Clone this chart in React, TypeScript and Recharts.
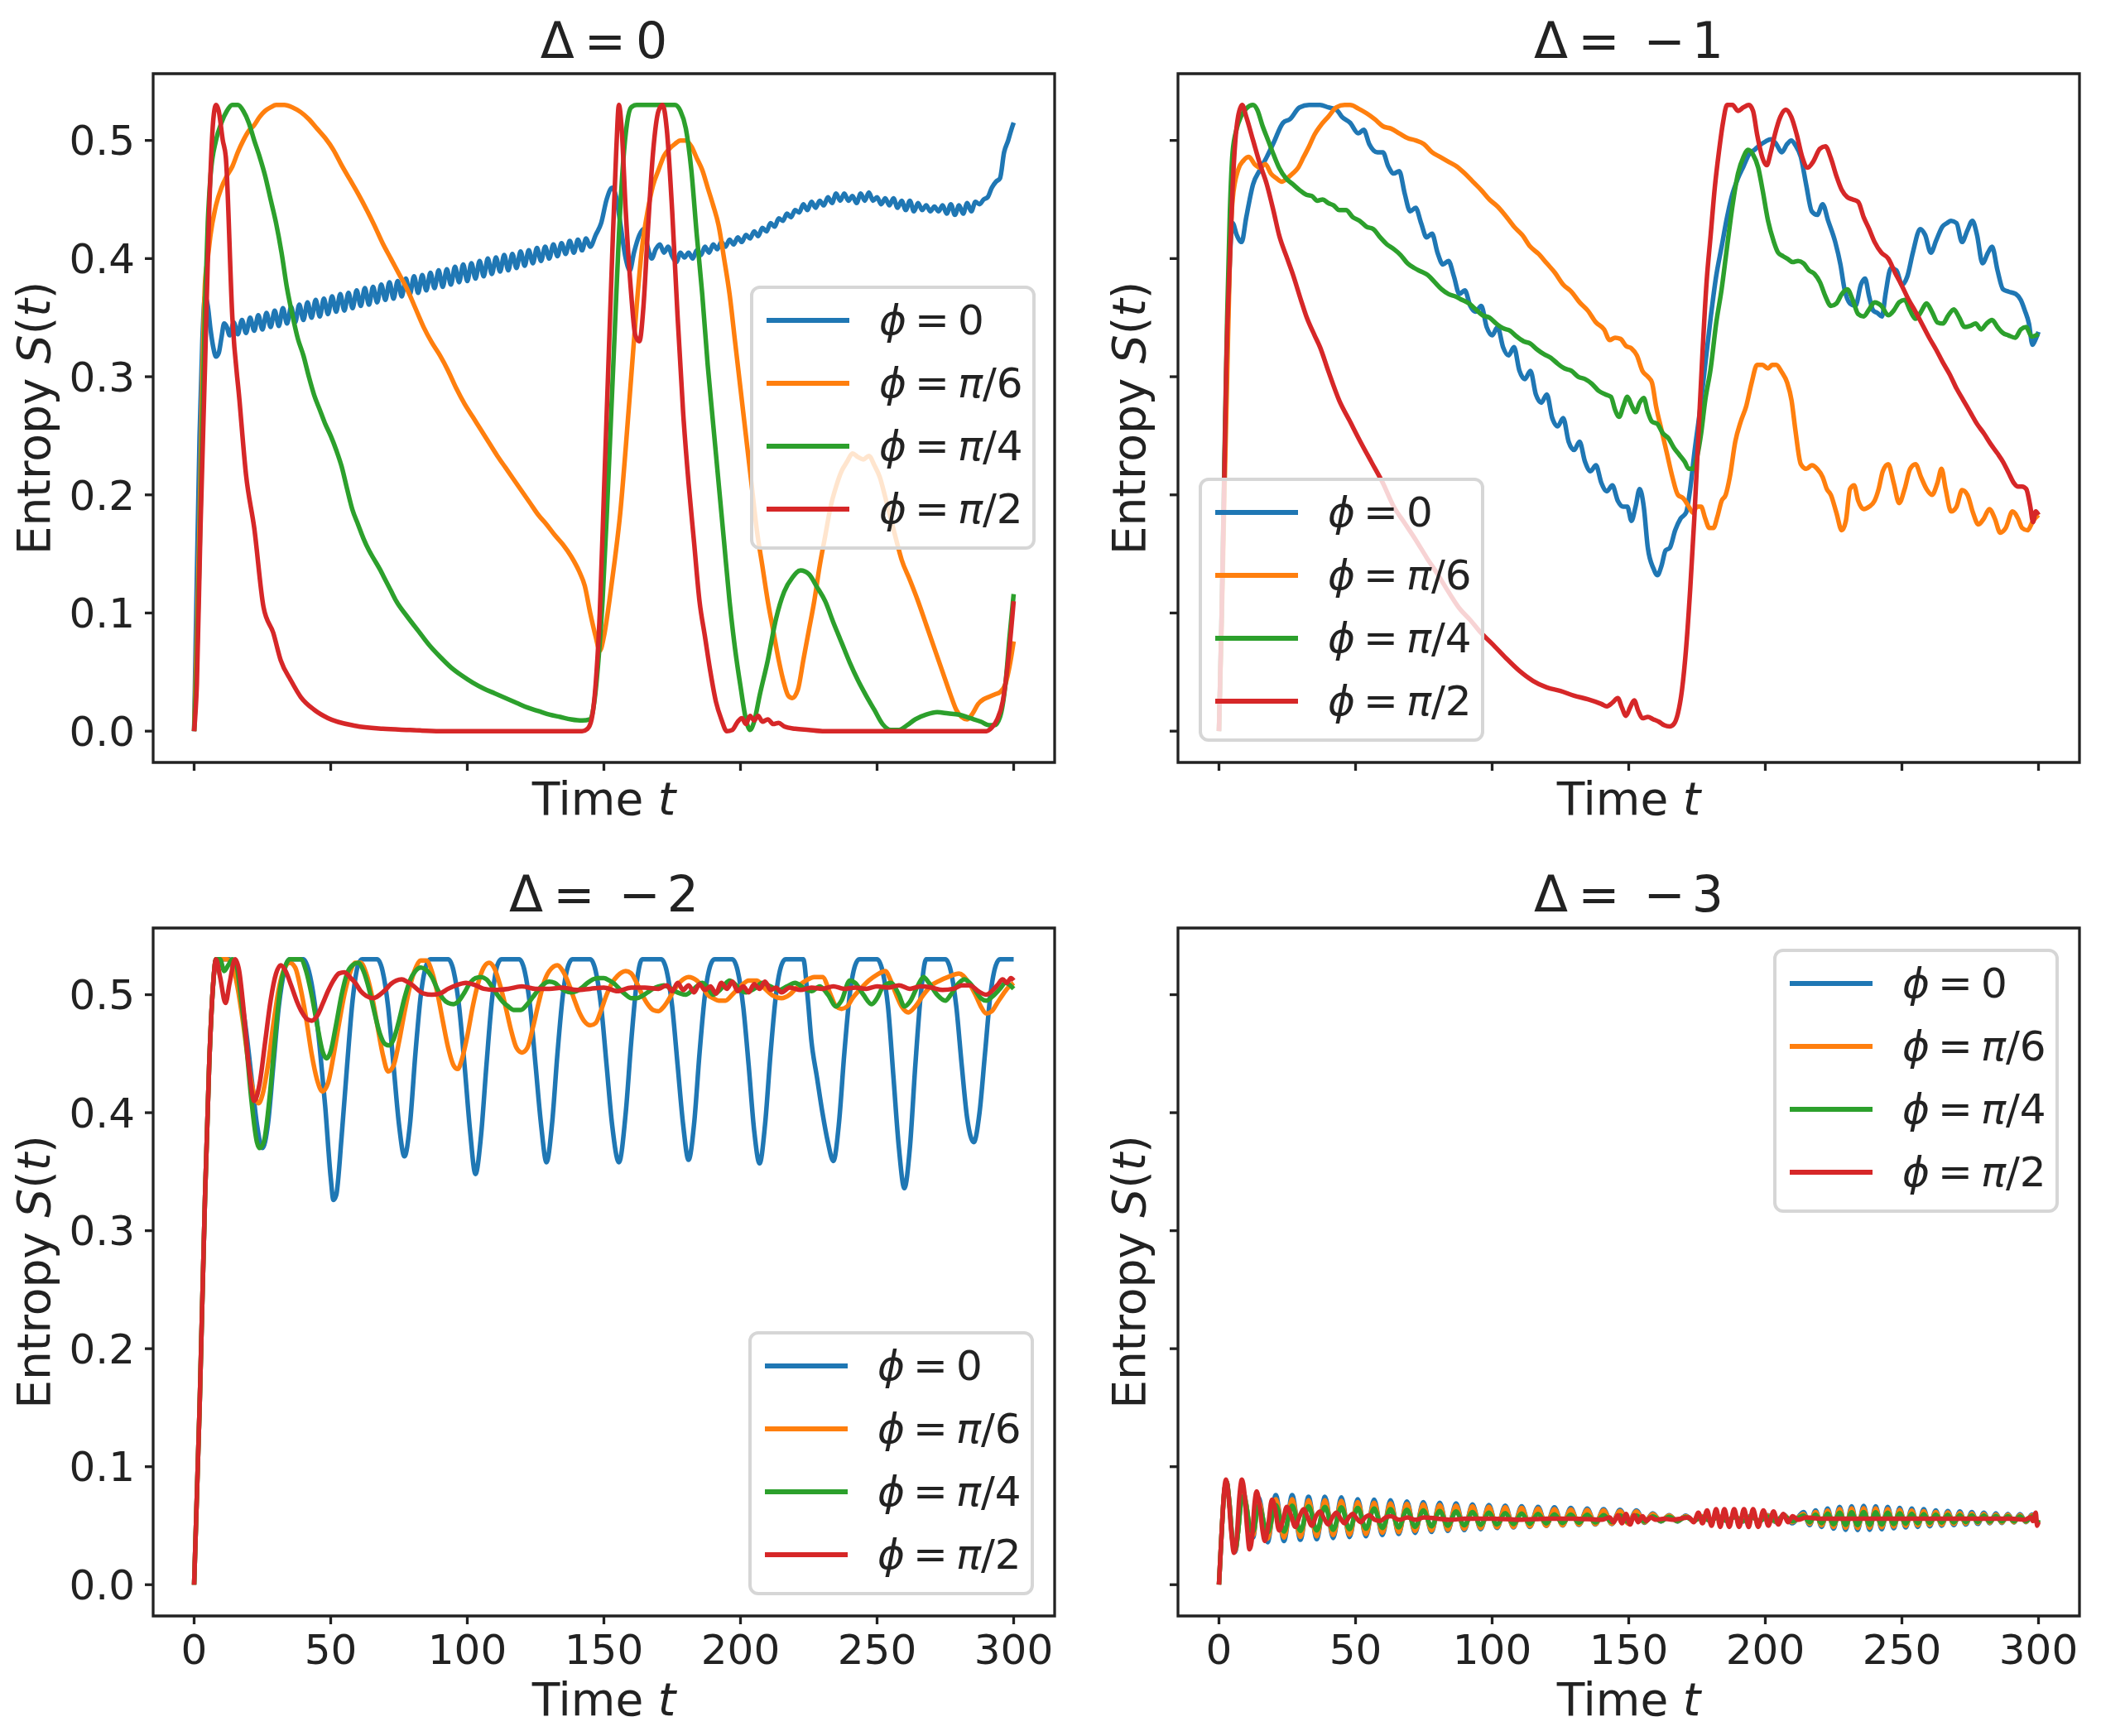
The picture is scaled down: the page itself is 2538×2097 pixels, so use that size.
import React from 'react';
import { LineChart, Line, XAxis, YAxis, Legend, ReferenceArea } from 'recharts';

type Pt = [number, number];

const FONT = '"DejaVu Sans", sans-serif';
const INK = '#222';

const timeTicks = [0, 50, 100, 150, 200, 250, 300];
const entropyTicks = [0, 0.1, 0.2, 0.3, 0.4, 0.5];
const timeDomain = [-15, 315];
const entropyDomain = [-0.0265, 0.5565];
const phiLabels = ['0', 'π/6', 'π/4', 'π/2'];
const deltaLabels = ['0', '−1', '−2', '−3'];
const colors = ['#1f77b4', '#ff7f0e', '#2ca02c', '#d62728'];

// Delta = 0
const d0phi0: Pt[] = [
  [0, 0], [1, 0.13], [2, 0.25], [3, 0.33], [4, 0.368], [5, 0.36], [6, 0.34], [7, 0.325], [8, 0.317], [9, 0.32], [10, 0.333], [11, 0.345], [12, 0.342],
  [13, 0.335], [14.5, 0.346], [16, 0.336], [17.5, 0.348], [19, 0.337], [20.5, 0.35], [22, 0.339], [23.5, 0.352], [25, 0.34], [26.5, 0.354],
  [28, 0.342], [29.5, 0.356], [31, 0.343], [32.5, 0.358], [34, 0.345], [35.5, 0.359], [37, 0.346], [38.5, 0.361], [40, 0.348], [41.5, 0.363],
  [43, 0.35], [44.5, 0.365], [46, 0.351], [47.5, 0.366], [49, 0.353], [50.5, 0.368], [52, 0.355], [53.5, 0.37], [55, 0.356], [56.5, 0.371],
  [58, 0.358], [59.5, 0.373], [61, 0.36], [62.5, 0.375], [64, 0.361], [65.5, 0.376], [67, 0.363], [68.5, 0.378], [70, 0.365], [71.5, 0.38],
  [73, 0.366], [74.5, 0.381], [76, 0.368], [77.5, 0.383], [79, 0.37], [80.5, 0.385], [82, 0.371], [83.5, 0.386], [85, 0.373], [86.5, 0.388],
  [88, 0.375], [89.5, 0.39], [91, 0.376], [92.5, 0.391], [94, 0.378], [95.5, 0.393], [97, 0.38], [98.5, 0.395], [100, 0.381], [101.5, 0.396],
  [103, 0.383], [104.5, 0.398], [106, 0.385], [107.5, 0.4], [109, 0.387], [110.5, 0.401], [112, 0.389], [113.5, 0.403], [115, 0.39], [116.5, 0.404],
  [118, 0.392], [119.5, 0.406], [121, 0.394], [122.5, 0.407], [124, 0.396], [125.5, 0.409], [127, 0.398], [128.5, 0.41], [130, 0.4], [131.5, 0.412],
  [133, 0.402], [134.5, 0.413], [136, 0.404], [137.5, 0.415], [139, 0.405], [140.5, 0.416], [142, 0.407], [143.5, 0.417], [145, 0.41],
  [147, 0.42], [149, 0.43], [151, 0.45], [153, 0.46], [154.5, 0.452], [156, 0.43], [158, 0.4], [159.5, 0.39], [161, 0.405], [163, 0.42],
  [164.5, 0.425], [166, 0.41], [167.5, 0.4], [169, 0.408], [170.5, 0.412], [172, 0.405], [173.5, 0.41], [175, 0.402], [176.5, 0.397],
  [178, 0.405], [179.5, 0.401], [181, 0.405], [182.5, 0.4], [184, 0.407], [185.5, 0.403], [187, 0.41], [188.5, 0.405], [190, 0.412],
  [191.5, 0.408], [193, 0.414], [194.5, 0.41], [196, 0.416], [197.5, 0.412], [199, 0.418], [200.5, 0.414], [202, 0.42], [203.5, 0.417],
  [205, 0.423], [206.5, 0.419], [208, 0.426], [209.5, 0.423], [211, 0.43], [212.5, 0.427], [214, 0.434], [215.5, 0.432], [217, 0.438],
  [218.5, 0.435], [220, 0.441], [221.5, 0.439], [223, 0.446], [224.5, 0.441], [226, 0.448], [227.5, 0.443], [229, 0.449], [230.5, 0.445],
  [232, 0.452], [233.5, 0.447], [235, 0.455], [236.5, 0.449], [238, 0.455], [239.5, 0.449], [241, 0.453], [242.5, 0.447], [244, 0.455],
  [245.5, 0.449], [247, 0.456], [248.5, 0.449], [250, 0.452], [251.5, 0.446], [253, 0.451], [254.5, 0.445], [256, 0.451], [257.5, 0.443],
  [259, 0.449], [260.5, 0.441], [262, 0.449], [263.5, 0.44], [265, 0.447], [266.5, 0.441], [268, 0.445], [269.5, 0.44], [271, 0.444],
  [272.5, 0.44], [274, 0.445], [275.5, 0.438], [277, 0.446], [278.5, 0.437], [280, 0.445], [281.5, 0.438], [283, 0.447], [284.5, 0.44],
  [286, 0.448], [287.5, 0.446], [289, 0.45], [290.5, 0.452], [292, 0.46], [293.5, 0.465], [295, 0.468], [296.5, 0.49], [298, 0.5], [299, 0.508], [300, 0.515],
];

const d0phi6: Pt[] = [
  [0, 0], [1, 0.08], [2, 0.18], [3, 0.3], [4, 0.38], [5, 0.4], [6, 0.42], [8, 0.445], [10, 0.46], [12, 0.47], [14, 0.478], [16, 0.49],
  [18, 0.5], [20, 0.508], [22, 0.513], [24, 0.52], [26, 0.525], [28, 0.528], [30, 0.53], [33, 0.53], [36, 0.528], [39, 0.524], [42, 0.518],
  [45, 0.51], [48, 0.502], [51, 0.492], [54, 0.479], [57, 0.467], [60, 0.455], [63, 0.442], [66, 0.428], [69, 0.413], [72, 0.4], [75, 0.387],
  [78, 0.374], [81, 0.358], [84, 0.342], [87, 0.329], [90, 0.318], [93, 0.305], [96, 0.29], [99, 0.277], [102, 0.266], [105, 0.255],
  [108, 0.244], [111, 0.233], [114, 0.223], [117, 0.213], [120, 0.203], [123, 0.193], [126, 0.183], [129, 0.175], [132, 0.166], [135, 0.158],
  [138, 0.148], [141, 0.135], [143, 0.123], [145, 0.1], [147, 0.08], [148.5, 0.068], [150, 0.08], [152, 0.11], [154, 0.145], [156, 0.185],
  [158, 0.24], [160, 0.3], [162, 0.36], [164, 0.41], [166, 0.44], [168, 0.462], [170, 0.475], [172, 0.487], [174, 0.493], [176, 0.497],
  [178, 0.5], [180, 0.5], [182, 0.495], [184, 0.485], [186, 0.475], [188, 0.46], [190, 0.445], [192, 0.428], [194, 0.4], [196, 0.37],
  [198, 0.33], [200, 0.29], [202, 0.25], [204, 0.21], [206, 0.17], [208, 0.14], [210, 0.11], [212, 0.085], [214, 0.06], [216, 0.04],
  [217.5, 0.03], [219, 0.028], [221, 0.035], [223, 0.06], [225, 0.085], [227, 0.11], [229, 0.14], [231, 0.165], [233, 0.19], [235, 0.207],
  [237, 0.22], [239, 0.228], [241, 0.235], [243, 0.232], [245, 0.23], [247, 0.233], [249, 0.225], [251, 0.215], [253, 0.198], [255, 0.18],
  [257, 0.162], [259, 0.145], [262, 0.128], [265, 0.11], [268, 0.09], [271, 0.07], [274, 0.05], [277, 0.03], [279, 0.018], [281, 0.012],
  [283, 0.01], [285, 0.015], [287, 0.023], [289, 0.027], [291, 0.029], [293, 0.031], [295, 0.033], [297, 0.04], [298.5, 0.055], [300, 0.076],
];

const d0phi4: Pt[] = [
  [0, 0], [1, 0.06], [2, 0.15], [3, 0.26], [4, 0.36], [5, 0.43], [6, 0.47], [8, 0.5], [10, 0.515], [12, 0.525], [14, 0.53], [16, 0.53],
  [18, 0.525], [20, 0.515], [22, 0.5], [24, 0.486], [26, 0.47], [28, 0.45], [30, 0.43], [32, 0.405], [34, 0.375], [36, 0.352], [38, 0.332],
  [40, 0.318], [42, 0.3], [44, 0.284], [46, 0.272], [48, 0.26], [50, 0.25], [52, 0.238], [54, 0.224], [56, 0.205], [58, 0.187], [60, 0.175],
  [62, 0.163], [64, 0.153], [66, 0.145], [68, 0.137], [70, 0.128], [72, 0.119], [74, 0.11], [78, 0.097], [82, 0.085], [86, 0.073], [90, 0.063],
  [94, 0.054], [98, 0.047], [102, 0.041], [106, 0.036], [110, 0.032], [114, 0.028], [118, 0.024], [122, 0.02], [126, 0.017], [130, 0.014],
  [134, 0.012], [138, 0.01], [142, 0.009], [145, 0.01], [146.5, 0.025], [148, 0.06], [149.5, 0.11], [151, 0.18], [152.5, 0.26], [154, 0.34],
  [155.5, 0.42], [157, 0.48], [158.5, 0.515], [160, 0.528], [162, 0.53], [170, 0.53], [176, 0.53], [178, 0.525], [180, 0.51], [182, 0.475],
  [184, 0.42], [186, 0.37], [188, 0.31], [190, 0.26], [192, 0.21], [194, 0.16], [196, 0.11], [198, 0.07], [200, 0.038], [202, 0.01],
  [203.5, 0.001], [205, 0.008], [207, 0.03], [210, 0.06], [213, 0.095], [216, 0.118], [219, 0.13], [222, 0.136], [225, 0.133], [228, 0.122],
  [231, 0.11], [234, 0.092], [237, 0.075], [240, 0.058], [243, 0.043], [246, 0.03], [249, 0.018], [252, 0.006], [255, 0.001], [258, 0.001],
  [261, 0.005], [264, 0.01], [268, 0.014], [272, 0.016], [276, 0.015], [280, 0.014], [284, 0.011], [288, 0.008], [291, 0.005], [293, 0.005],
  [295, 0.012], [297, 0.04], [298.5, 0.08], [300, 0.116],
];

const d0phi2: Pt[] = [
  [0, 0], [1, 0.04], [2.3, 0.17], [4, 0.31], [5.5, 0.44], [7, 0.517], [8, 0.53], [9, 0.525], [10.5, 0.5], [11.6, 0.486], [14, 0.35],
  [16.6, 0.28], [19, 0.217], [22, 0.172], [25.4, 0.105], [29, 0.083], [31.7, 0.06], [35.4, 0.043], [39, 0.029], [44, 0.018], [49, 0.011],
  [59, 0.0045], [69, 0.002], [79, 0.001], [90, 0], [142, 0], [144, 0.002], [145.5, 0.01], [147, 0.04], [148.5, 0.1], [150, 0.2],
  [151.5, 0.3], [153, 0.4], [154.5, 0.49], [155.5, 0.53], [156.5, 0.51], [158, 0.44], [160, 0.37], [161.5, 0.335], [163, 0.33],
  [164.5, 0.36], [166, 0.42], [168, 0.49], [170, 0.525], [171.5, 0.53], [173, 0.51], [175, 0.44], [177, 0.35], [179, 0.27], [181, 0.21],
  [183, 0.16], [185, 0.11], [187, 0.08], [189, 0.05], [191, 0.025], [193, 0.01], [195, 0], [197, 0.001], [199, 0.008], [200.5, 0.011],
  [202, 0.006], [203.5, 0.013], [205, 0.009], [206.5, 0.013], [208, 0.008], [210, 0.01], [212, 0.006], [214, 0.007], [216, 0.004],
  [220, 0.002], [225, 0.001], [230, 0], [290, 0], [292, 0.003], [294, 0.01], [296, 0.025], [298, 0.06], [300, 0.11],
];

// Delta = -1
const d1phi0: Pt[] = [
  [0, 0], [1, 0.1], [2, 0.22], [3, 0.33], [4, 0.4], [5, 0.43], [6.5, 0.42], [8.3, 0.414], [10, 0.435], [12.5, 0.463], [15, 0.475],
  [17.5, 0.486], [20, 0.498], [23.5, 0.515], [26, 0.518], [29.5, 0.528], [33, 0.53], [37, 0.53], [40, 0.528], [43, 0.526], [45, 0.52],
  [48, 0.515], [51, 0.506], [53, 0.509], [55, 0.497], [58, 0.49], [60, 0.49], [62, 0.478], [64, 0.472], [66, 0.474], [68, 0.455], [70, 0.44],
  [72, 0.443], [74, 0.43], [76, 0.418], [78, 0.421], [80, 0.405], [82, 0.395], [84, 0.398], [86, 0.385], [88, 0.37], [90, 0.373], [92, 0.36],
  [94, 0.355], [96, 0.36], [98, 0.342], [100, 0.335], [102, 0.342], [104, 0.325], [106, 0.318], [108, 0.325], [110, 0.305], [112, 0.298],
  [114, 0.305], [116, 0.285], [118, 0.278], [120, 0.285], [122, 0.265], [124, 0.258], [126, 0.265], [128, 0.245], [130, 0.238], [132, 0.245],
  [134, 0.228], [136, 0.22], [138, 0.225], [140, 0.21], [142, 0.203], [144, 0.208], [146, 0.195], [148, 0.19], [149.5, 0.19], [151, 0.178],
  [152.5, 0.19], [154, 0.205], [155.5, 0.19], [157, 0.155], [159, 0.138], [160.5, 0.132], [162, 0.14], [163.5, 0.153], [165, 0.155],
  [167, 0.17], [169, 0.18], [171, 0.185], [172.5, 0.205], [174, 0.235], [176, 0.27], [178, 0.31], [180, 0.35], [182, 0.385], [184, 0.41],
  [186, 0.435], [188, 0.455], [190, 0.468], [192, 0.478], [194, 0.488], [196, 0.492], [198, 0.496], [200, 0.499], [202, 0.501], [204, 0.497],
  [206, 0.49], [208, 0.497], [209.5, 0.5], [211, 0.496], [213, 0.486], [215, 0.462], [217, 0.44], [219, 0.437], [221, 0.446], [223, 0.432],
  [225.6, 0.414], [227.5, 0.395], [229, 0.374], [231, 0.362], [233, 0.36], [235, 0.378], [236.5, 0.383], [238, 0.368], [239.5, 0.356],
  [241, 0.354], [242.7, 0.351], [244, 0.37], [246, 0.392], [248, 0.39], [250, 0.378], [252, 0.385], [254, 0.405], [256.7, 0.425],
  [258.5, 0.42], [260.6, 0.405], [262.5, 0.415], [264.8, 0.427], [266.5, 0.43], [268, 0.432], [270, 0.43], [272, 0.414], [274, 0.424],
  [275.8, 0.432], [277.5, 0.42], [279.5, 0.396], [281.5, 0.405], [283, 0.41], [285, 0.39], [287, 0.374], [289, 0.372], [291.7, 0.37],
  [293.5, 0.365], [295, 0.356], [296.5, 0.345], [297.8, 0.327], [299, 0.332], [300, 0.338],
];

const d1phi6: Pt[] = [
  [0, 0], [1, 0.09], [2, 0.2], [3, 0.3], [4, 0.4], [5, 0.45], [7, 0.475], [9, 0.483], [11, 0.486], [13, 0.48], [15, 0.477], [17, 0.48],
  [19, 0.472], [21, 0.468], [23, 0.465], [25, 0.468], [27, 0.472], [29, 0.477], [31, 0.486], [33, 0.495], [35, 0.505], [37, 0.512],
  [40, 0.52], [43, 0.528], [46, 0.53], [48, 0.53], [51, 0.527], [54, 0.523], [57, 0.518], [60, 0.512], [63, 0.51], [66, 0.506], [69, 0.502],
  [72, 0.5], [75, 0.497], [78, 0.49], [81, 0.486], [84, 0.482], [87, 0.478], [90, 0.472], [93, 0.465], [96, 0.458], [99, 0.45], [102, 0.444],
  [105, 0.436], [108, 0.427], [111, 0.42], [114, 0.41], [117, 0.404], [120, 0.396], [123, 0.388], [126, 0.378], [129, 0.372], [132, 0.363],
  [135, 0.356], [138, 0.346], [141, 0.34], [143, 0.331], [145, 0.333], [147, 0.332], [149, 0.326], [151, 0.324], [153, 0.318], [155, 0.305],
  [157, 0.3], [158.5, 0.295], [160, 0.275], [162, 0.255], [164, 0.235], [166, 0.215], [168, 0.2], [170, 0.197], [172, 0.19], [173.5, 0.185],
  [175, 0.19], [176.5, 0.19], [178, 0.18], [179.5, 0.172], [181, 0.172], [182.5, 0.182], [184, 0.195], [185.5, 0.2], [187, 0.215],
  [189, 0.245], [191, 0.262], [193, 0.275], [195, 0.295], [197, 0.31], [199, 0.31], [201, 0.307], [202.5, 0.31], [204, 0.31], [206, 0.304],
  [208, 0.295], [209.6, 0.28], [211, 0.255], [213, 0.226], [215, 0.222], [217, 0.225], [219, 0.222], [221, 0.215], [222.5, 0.205],
  [224, 0.2], [226, 0.185], [228, 0.17], [229.5, 0.178], [231, 0.205], [232.5, 0.208], [234, 0.195], [236, 0.188], [238, 0.19], [240, 0.195],
  [241.5, 0.205], [243, 0.22], [245, 0.226], [247, 0.21], [249, 0.193], [251, 0.205], [253, 0.222], [255, 0.226], [257, 0.215], [259, 0.205],
  [261, 0.2], [263, 0.21], [264.5, 0.222], [266, 0.205], [268, 0.186], [270, 0.19], [272, 0.204], [274, 0.2], [276, 0.185], [278, 0.175],
  [280, 0.18], [282, 0.188], [284, 0.18], [286, 0.168], [288, 0.172], [290.5, 0.186], [292.5, 0.18], [294, 0.172], [296, 0.17], [298, 0.178], [300, 0.183],
];

const d1phi4: Pt[] = [
  [0, 0], [1, 0.1], [2, 0.23], [3, 0.35], [4, 0.44], [5, 0.49], [6.5, 0.51], [8, 0.52], [10, 0.527], [12.5, 0.53], [14, 0.526], [16, 0.512],
  [18, 0.5], [20, 0.488], [22, 0.477], [24.5, 0.468], [27, 0.463], [29.5, 0.458], [32, 0.454], [34, 0.453], [36, 0.449], [38, 0.45],
  [40, 0.447], [42, 0.445], [44, 0.441], [46.5, 0.441], [49, 0.435], [51.5, 0.432], [54, 0.427], [56.5, 0.425], [59, 0.418], [61.5, 0.412],
  [64, 0.408], [66.5, 0.403], [69, 0.396], [71.5, 0.392], [74, 0.389], [76.5, 0.386], [79, 0.38], [81.5, 0.374], [84, 0.37], [86.5, 0.368],
  [89, 0.365], [91.5, 0.362], [94, 0.357], [96.5, 0.352], [99, 0.35], [101.5, 0.345], [104, 0.341], [106.5, 0.339], [109, 0.334],
  [111.5, 0.33], [114, 0.328], [116.5, 0.323], [119, 0.319], [121.5, 0.316], [124, 0.311], [126.5, 0.307], [129, 0.305], [131.5, 0.3],
  [134, 0.298], [136.5, 0.294], [139, 0.288], [141.5, 0.285], [143.5, 0.283], [145, 0.272], [146.5, 0.266], [148, 0.275], [149.5, 0.283],
  [151, 0.276], [152.5, 0.27], [154, 0.278], [155.5, 0.282], [157, 0.27], [158.5, 0.262], [160.5, 0.26], [162.5, 0.252], [164.5, 0.248],
  [166.5, 0.24], [168.5, 0.234], [170.5, 0.228], [172, 0.222], [173.5, 0.222], [175, 0.232], [176.5, 0.252], [178, 0.28], [180, 0.307],
  [182, 0.345], [184, 0.374], [186, 0.41], [188, 0.445], [190, 0.472], [192, 0.486], [193.7, 0.492], [195.5, 0.488], [197.4, 0.477],
  [199, 0.458], [201, 0.432], [203, 0.415], [204.7, 0.405], [206.5, 0.402], [208, 0.4], [210, 0.397], [212, 0.398], [214, 0.396],
  [216, 0.39], [218, 0.387], [220, 0.38], [222, 0.368], [224, 0.36], [226, 0.362], [228, 0.37], [230, 0.374], [232, 0.365], [234, 0.353],
  [236, 0.351], [238, 0.357], [240, 0.363], [242.5, 0.36], [245, 0.352], [247, 0.356], [249, 0.363], [251, 0.365], [253, 0.356],
  [255, 0.349], [257, 0.355], [259, 0.362], [261, 0.355], [263, 0.346], [265, 0.345], [267, 0.352], [269, 0.357], [271, 0.35], [273, 0.342],
  [275, 0.343], [277, 0.345], [279, 0.34], [281, 0.345], [283, 0.348], [285, 0.342], [287, 0.337], [289, 0.335], [291.5, 0.333],
  [293.5, 0.34], [295.5, 0.342], [297.5, 0.334], [300, 0.336],
];

const d1phi2: Pt[] = [
  [0, 0], [1, 0.1], [2, 0.22], [2.7, 0.31], [4, 0.4], [5, 0.46], [6, 0.5], [7, 0.52], [8.5, 0.53], [10, 0.52], [12.5, 0.5], [15, 0.48],
  [17.5, 0.463], [20, 0.44], [22, 0.42], [25, 0.4], [27, 0.387], [30, 0.365], [32, 0.351], [35, 0.335], [37, 0.325], [40, 0.305], [44, 0.28],
  [48, 0.262], [52, 0.244], [56, 0.227], [60, 0.21], [64, 0.19], [68, 0.176], [72, 0.162], [76, 0.147], [80, 0.133], [84, 0.118],
  [88, 0.104], [92, 0.094], [96, 0.083], [100, 0.074], [105, 0.062], [110, 0.051], [115, 0.0425], [120, 0.037], [125, 0.034], [130, 0.03],
  [135, 0.027], [140, 0.023], [142, 0.021], [144, 0.024], [146, 0.028], [147.5, 0.02], [149, 0.013], [150.5, 0.02], [152, 0.026],
  [153.5, 0.017], [155, 0.011], [157, 0.012], [159, 0.01], [161, 0.008], [163, 0.005], [165, 0.004], [166.5, 0.006], [168, 0.015],
  [169.5, 0.035], [171, 0.07], [172.5, 0.12], [174, 0.18], [175.5, 0.25], [177, 0.32], [178.5, 0.38], [180, 0.42], [181.5, 0.46],
  [183, 0.49], [184.5, 0.515], [186, 0.53], [188, 0.53], [190, 0.525], [192, 0.528], [194, 0.53], [195.5, 0.525], [197, 0.505],
  [199, 0.485], [200.5, 0.479], [202, 0.49], [203.5, 0.505], [205.5, 0.52], [207.5, 0.526], [209.5, 0.52], [211.5, 0.505], [213.5, 0.486],
  [215.5, 0.477], [217.5, 0.482], [220, 0.493], [222, 0.495], [224, 0.485], [226, 0.47], [228, 0.458], [230, 0.452], [232, 0.45],
  [234, 0.448], [236, 0.435], [238, 0.425], [240, 0.414], [242.5, 0.405], [245, 0.4], [247.5, 0.388], [250, 0.377], [252.5, 0.365],
  [255, 0.355], [257.5, 0.344], [260, 0.333], [262.5, 0.323], [265, 0.312], [267.5, 0.302], [270, 0.29], [272.5, 0.28], [275, 0.27],
  [277.5, 0.26], [280, 0.252], [282.5, 0.243], [285, 0.235], [287, 0.228], [289, 0.219], [291, 0.21], [292.5, 0.207], [294, 0.207],
  [295.5, 0.205], [297, 0.19], [298, 0.177], [299, 0.186], [300, 0.183],
];

// Delta = -2
const d2phi0: Pt[] = [
  [0, 0], [2, 0.15], [4, 0.33], [5.5, 0.44], [7, 0.51], [8, 0.53], [13, 0.53], [15, 0.52], [17, 0.5], [19, 0.47], [21, 0.43], [23, 0.39],
  [25, 0.37], [27, 0.39], [29, 0.44], [31, 0.49], [33, 0.52], [35, 0.53], [40, 0.53], [42, 0.52], [44, 0.495], [46, 0.455], [48, 0.405],
  [50, 0.345], [51, 0.326], [52, 0.33], [54, 0.38], [56, 0.44], [58, 0.495], [60, 0.525], [61.5, 0.53], [67, 0.53], [69, 0.52], [71, 0.49],
  [73, 0.44], [75, 0.39], [77, 0.363], [79, 0.39], [81, 0.45], [83, 0.5], [85, 0.525], [86.5, 0.53], [93, 0.53], [95, 0.52], [97, 0.49],
  [99, 0.44], [101, 0.385], [103, 0.348], [105, 0.38], [107, 0.44], [109, 0.495], [111, 0.525], [112.5, 0.53], [119, 0.53], [121, 0.52],
  [123, 0.49], [125, 0.44], [127, 0.39], [129, 0.358], [131, 0.39], [133, 0.45], [135, 0.5], [137, 0.525], [138.5, 0.53], [145, 0.53],
  [147, 0.52], [149, 0.49], [151, 0.44], [153, 0.39], [155.5, 0.358], [158, 0.4], [160, 0.46], [162, 0.51], [164, 0.53], [171, 0.53],
  [173, 0.52], [175, 0.49], [177, 0.44], [179, 0.39], [181, 0.36], [183, 0.39], [185, 0.45], [187, 0.5], [189, 0.525], [190.5, 0.53],
  [197, 0.53], [199, 0.52], [201, 0.49], [203, 0.44], [205, 0.385], [207, 0.357], [209, 0.39], [211, 0.45], [213, 0.5], [215, 0.525],
  [216.5, 0.53], [223, 0.53], [224.5, 0.5], [226, 0.46], [228, 0.43], [230, 0.4], [232, 0.375], [234, 0.359], [236, 0.39], [238, 0.45],
  [240, 0.5], [242, 0.525], [243.5, 0.53], [250, 0.53], [252, 0.52], [254, 0.49], [256, 0.43], [258, 0.37], [260, 0.336], [262, 0.37],
  [264, 0.44], [266, 0.5], [268, 0.53], [275, 0.53], [277, 0.52], [279, 0.49], [281, 0.44], [283, 0.395], [285.4, 0.375], [287.5, 0.4],
  [289.5, 0.45], [291.5, 0.5], [293.5, 0.525], [295, 0.53], [300, 0.53],
];

const d2phi6: Pt[] = [
  [0, 0], [2, 0.15], [4, 0.33], [5.5, 0.44], [7, 0.51], [8, 0.53], [12, 0.53], [14, 0.525], [16, 0.505], [18, 0.475], [20, 0.44],
  [22, 0.415], [23.6, 0.408], [25, 0.415], [27, 0.44], [29, 0.475], [31, 0.505], [33, 0.522], [35, 0.527], [37, 0.523], [39, 0.505],
  [41, 0.48], [43, 0.45], [45, 0.428], [47, 0.418], [49, 0.425], [51, 0.448], [53, 0.475], [55, 0.5], [57, 0.518], [59, 0.527], [61, 0.527],
  [63, 0.518], [65, 0.5], [67, 0.475], [69, 0.45], [71, 0.435], [73, 0.44], [75, 0.46], [77, 0.485], [79, 0.507], [81, 0.522], [83, 0.529],
  [85, 0.529], [87, 0.52], [89, 0.502], [91, 0.478], [93, 0.455], [95, 0.44], [96.5, 0.437], [98, 0.445], [100, 0.465], [102, 0.49],
  [104, 0.51], [106, 0.523], [108, 0.527], [110, 0.522], [112, 0.508], [114, 0.49], [116, 0.47], [118, 0.455], [120, 0.451], [122, 0.455],
  [124, 0.472], [126, 0.492], [128, 0.51], [130, 0.52], [133, 0.525], [135, 0.52], [137, 0.51], [139, 0.497], [141, 0.485], [143, 0.477],
  [145, 0.474], [147, 0.476], [149, 0.487], [151, 0.5], [153, 0.51], [155, 0.516], [158, 0.52], [160, 0.518], [162, 0.51], [164, 0.5],
  [166, 0.492], [168, 0.487], [170, 0.486], [172, 0.49], [174, 0.497], [176, 0.505], [178, 0.511], [181, 0.515], [184, 0.512], [186, 0.507],
  [188, 0.5], [190, 0.497], [192, 0.495], [194.5, 0.495], [197, 0.5], [200, 0.507], [203, 0.512], [206, 0.512], [209, 0.505], [212, 0.499],
  [215, 0.497], [218, 0.5], [221, 0.507], [224, 0.512], [227, 0.515], [230, 0.515], [233, 0.5], [235, 0.49], [237, 0.488], [239, 0.49],
  [241, 0.497], [244, 0.505], [247, 0.512], [250, 0.517], [253, 0.52], [255, 0.512], [257, 0.5], [259, 0.49], [261.5, 0.485], [264, 0.49],
  [267, 0.5], [270, 0.508], [273, 0.512], [276, 0.515], [280, 0.518], [283, 0.512], [286, 0.5], [288, 0.49], [290, 0.484], [292, 0.486],
  [294, 0.493], [296, 0.5], [298, 0.506], [300, 0.51],
];

const d2phi4: Pt[] = [
  [0, 0], [2, 0.15], [4, 0.33], [5.5, 0.44], [7, 0.51], [8, 0.53], [9.5, 0.53], [11, 0.52], [12.5, 0.525], [14, 0.53], [15.5, 0.525],
  [17, 0.5], [19, 0.46], [21, 0.41], [23, 0.375], [24, 0.37], [25.5, 0.375], [27.5, 0.41], [29.5, 0.46], [31.5, 0.505], [33.5, 0.525],
  [35, 0.53], [39, 0.53], [41, 0.52], [43, 0.5], [45, 0.475], [47, 0.452], [48.5, 0.446], [50, 0.452], [52, 0.475], [54, 0.5], [56, 0.518],
  [58, 0.525], [60, 0.527], [62, 0.52], [64, 0.505], [66, 0.485], [68, 0.467], [70, 0.458], [71.4, 0.457], [73, 0.462], [75, 0.478],
  [77, 0.497], [79, 0.512], [81, 0.52], [83, 0.523], [85, 0.521], [87, 0.515], [89, 0.505], [91, 0.497], [93, 0.493], [95, 0.492],
  [97, 0.495], [99, 0.502], [101, 0.51], [103, 0.514], [105, 0.515], [107, 0.513], [109, 0.507], [111, 0.5], [113, 0.494], [115, 0.49],
  [117, 0.487], [119.6, 0.487], [122, 0.492], [124, 0.498], [126, 0.504], [128, 0.509], [130, 0.511], [132, 0.51], [134, 0.506],
  [136, 0.503], [138, 0.502], [140, 0.503], [142, 0.506], [144, 0.51], [146, 0.513], [148, 0.514], [150, 0.514], [152, 0.512], [154, 0.509],
  [156, 0.504], [158, 0.5], [160, 0.497], [162, 0.497], [164, 0.499], [166, 0.502], [168, 0.505], [170, 0.507], [172, 0.508], [174, 0.506],
  [176, 0.503], [178, 0.501], [180, 0.5], [182, 0.503], [184, 0.507], [186, 0.51], [188, 0.506], [190, 0.5], [192, 0.503], [194, 0.508],
  [196, 0.512], [198, 0.509], [200, 0.504], [202, 0.502], [205, 0.505], [208, 0.51], [211, 0.507], [214, 0.504], [217, 0.507], [220, 0.51],
  [223, 0.506], [226, 0.503], [229, 0.507], [232, 0.5], [235, 0.49], [237, 0.495], [240, 0.512], [242, 0.51], [245, 0.5], [248, 0.492],
  [250, 0.497], [252, 0.506], [255, 0.51], [258, 0.5], [260, 0.49], [262, 0.494], [265, 0.508], [267, 0.515], [269, 0.51], [272, 0.5],
  [275, 0.495], [277, 0.5], [280, 0.51], [282, 0.513], [285, 0.507], [288, 0.497], [290, 0.495], [292, 0.498], [295, 0.505], [297, 0.51], [300, 0.505],
];

const d2phi2: Pt[] = [
  [0, 0], [2, 0.15], [4, 0.33], [5.5, 0.44], [7, 0.51], [8, 0.53], [9.5, 0.515], [11.5, 0.493], [13, 0.51], [15, 0.53], [16.5, 0.52],
  [18, 0.49], [20, 0.44], [22, 0.41], [24, 0.425], [26, 0.46], [28, 0.495], [30, 0.518], [31.7, 0.525], [33.5, 0.52], [35.5, 0.508],
  [37.5, 0.495], [39.5, 0.485], [41.5, 0.479], [43, 0.478], [45, 0.482], [47, 0.492], [49, 0.503], [51, 0.512], [53, 0.518], [55, 0.519],
  [57, 0.515], [59, 0.51], [61, 0.503], [63, 0.499], [65.6, 0.497], [68, 0.5], [70, 0.504], [72, 0.509], [74, 0.512], [76, 0.513],
  [78, 0.511], [80, 0.508], [82, 0.504], [84, 0.501], [87, 0.5], [90, 0.501], [93, 0.505], [96, 0.508], [99.5, 0.51], [103, 0.508],
  [106, 0.505], [110, 0.504], [115, 0.505], [120, 0.507], [125, 0.505], [130, 0.505], [135, 0.506], [140, 0.504], [145, 0.505], [150, 0.506],
  [155, 0.503], [160, 0.506], [165, 0.506], [170, 0.505], [173, 0.508], [175, 0.503], [177, 0.51], [179, 0.504], [181, 0.508], [183, 0.502],
  [185, 0.509], [187, 0.504], [189, 0.507], [191, 0.501], [193, 0.51], [195, 0.505], [197, 0.511], [199, 0.503], [201, 0.507], [203, 0.502],
  [205, 0.509], [207, 0.505], [209, 0.511], [211, 0.504], [213, 0.506], [215, 0.502], [218, 0.506], [222, 0.504], [226, 0.506], [230, 0.505],
  [234, 0.507], [238, 0.505], [242, 0.506], [246, 0.505], [250, 0.507], [254, 0.506], [258, 0.508], [262, 0.505], [266, 0.507], [270, 0.506],
  [274, 0.504], [278, 0.505], [281, 0.508], [284, 0.508], [287, 0.503], [290, 0.5], [292, 0.503], [294, 0.508], [296, 0.513], [297.5, 0.51],
  [299, 0.514], [300, 0.512],
];

// Delta = -3
const d3phi0: Pt[] = [
  [0, 0], [1, 0.045], [2, 0.08], [2.8, 0.087], [3.8, 0.07], [5, 0.036], [6, 0.028], [7, 0.045], [8, 0.07], [9, 0.078], [10, 0.068],
  [11.5, 0.042], [12.5, 0.04], [14.5, 0.074], [17.8, 0.036], [20.8, 0.076], [23.8, 0.037], [26.8, 0.076], [29.8, 0.038], [32.8, 0.0745],
  [35.8, 0.0386], [38.8, 0.0745], [41.8, 0.0395], [44.8, 0.074], [47.8, 0.0404], [50.8, 0.0725], [53.8, 0.041], [56.8, 0.072],
  [59.8, 0.042], [62.8, 0.0715], [65.8, 0.043], [68.8, 0.0705], [71.8, 0.0439], [74.8, 0.07], [77.8, 0.0447], [80.8, 0.0695],
  [83.8, 0.0455], [86.8, 0.069], [89.8, 0.0463], [92.8, 0.068], [95.8, 0.047], [98.8, 0.0675], [101.8, 0.048], [104.8, 0.067],
  [107.8, 0.0485], [110.8, 0.0665], [113.8, 0.049], [116.8, 0.066], [119.8, 0.0498], [122.8, 0.0655], [125.8, 0.0502], [128.8, 0.065],
  [131.8, 0.0506], [134.8, 0.0645], [137.8, 0.051], [140.8, 0.064], [143.8, 0.0514], [146.8, 0.0635], [149.8, 0.052], [152.8, 0.063],
  [155.8, 0.0525], [158.8, 0.0605], [161.8, 0.0535], [164.8, 0.059], [167.8, 0.0535], [170.8, 0.0585], [173.8, 0.054], [176.8, 0.058],
  [179.8, 0.054], [182.8, 0.058], [185.8, 0.054], [188.8, 0.058], [191.8, 0.0535], [194.8, 0.0585], [197.8, 0.0535], [200.8, 0.059],
  [203.8, 0.053], [206.8, 0.0595], [209.8, 0.052], [214, 0.0615], [216.2, 0.0505], [218.4, 0.063], [220.6, 0.049], [222.8, 0.0645],
  [225, 0.0475], [227.2, 0.066], [229.4, 0.0465], [231.6, 0.0665], [233.8, 0.0463], [236, 0.0668], [238.2, 0.0465], [240.4, 0.0665],
  [242.6, 0.047], [244.8, 0.066], [247, 0.0478], [249.2, 0.065], [251.4, 0.0485], [253.6, 0.0645], [255.8, 0.049], [258, 0.064],
  [260.2, 0.0495], [262.4, 0.063], [264.6, 0.05], [266.8, 0.0625], [269, 0.0505], [271.2, 0.062], [273.4, 0.051], [275.6, 0.0615],
  [277.8, 0.0515], [280, 0.061], [282.2, 0.052], [284.4, 0.0605], [286.6, 0.0523], [288.8, 0.06], [291, 0.0527], [293.2, 0.0598],
  [295.4, 0.053], [297.6, 0.0595], [299.8, 0.0535], [300, 0.054],
];

const d3phi6: Pt[] = [
  [0, 0], [1, 0.045], [2, 0.08], [2.8, 0.087], [3.8, 0.07], [5, 0.036], [6, 0.029], [7, 0.045], [8, 0.07], [9, 0.077], [10, 0.068],
  [11.5, 0.044], [12.5, 0.042], [14.5, 0.071], [17.8, 0.039], [20.8, 0.0725], [23.8, 0.04], [26.8, 0.0725], [29.8, 0.0405], [32.8, 0.0715],
  [35.8, 0.041], [38.8, 0.0715], [41.8, 0.042], [44.8, 0.071], [47.8, 0.0425], [50.8, 0.07], [53.8, 0.043], [56.8, 0.0695], [59.8, 0.044],
  [62.8, 0.069], [65.8, 0.0445], [68.8, 0.0685], [71.8, 0.0455], [74.8, 0.068], [77.8, 0.046], [80.8, 0.0675], [83.8, 0.0467],
  [86.8, 0.067], [89.8, 0.0473], [92.8, 0.0665], [95.8, 0.048], [98.8, 0.066], [101.8, 0.0487], [104.8, 0.0655], [107.8, 0.049],
  [110.8, 0.065], [113.8, 0.0495], [116.8, 0.0645], [119.8, 0.05], [122.8, 0.064], [125.8, 0.0505], [128.8, 0.0637], [131.8, 0.051],
  [134.8, 0.0633], [137.8, 0.0513], [140.8, 0.063], [143.8, 0.0517], [146.8, 0.0625], [149.8, 0.052], [152.8, 0.062], [155.8, 0.0528],
  [158.8, 0.0598], [161.8, 0.0538], [164.8, 0.0585], [167.8, 0.0538], [170.8, 0.058], [173.8, 0.0542], [176.8, 0.0578], [179.8, 0.0542],
  [182.8, 0.0578], [185.8, 0.0542], [188.8, 0.0578], [191.8, 0.054], [194.8, 0.058], [197.8, 0.054], [200.8, 0.0585], [203.8, 0.0535],
  [206.8, 0.059], [209.8, 0.053], [214, 0.06], [216.2, 0.0515], [218.4, 0.0615], [220.6, 0.0503], [222.8, 0.0627], [225, 0.049],
  [227.2, 0.064], [229.4, 0.0483], [231.6, 0.0645], [233.8, 0.048], [236, 0.0647], [238.2, 0.0483], [240.4, 0.0645], [242.6, 0.0487],
  [244.8, 0.064], [247, 0.0493], [249.2, 0.0633], [251.4, 0.0498], [253.6, 0.0628], [255.8, 0.0503], [258, 0.0623], [260.2, 0.0507],
  [262.4, 0.0615], [264.6, 0.051], [266.8, 0.0612], [269, 0.0515], [271.2, 0.0607], [273.4, 0.0518], [275.6, 0.0603], [277.8, 0.0522],
  [280, 0.06], [282.2, 0.0525], [284.4, 0.0595], [286.6, 0.0528], [288.8, 0.0592], [291, 0.053], [293.2, 0.059], [295.4, 0.0533],
  [297.6, 0.0588], [299.8, 0.0536], [300, 0.0545],
];

const d3phi4: Pt[] = [
  [0, 0], [1, 0.045], [2, 0.08], [2.8, 0.087], [3.8, 0.07], [5, 0.037], [6, 0.03], [7, 0.045], [8, 0.068], [9, 0.075], [10, 0.067],
  [11.5, 0.046], [12.5, 0.045], [14.5, 0.067], [17.8, 0.044], [20.8, 0.0675], [23.8, 0.045], [26.8, 0.067], [29.8, 0.0455], [32.8, 0.0665],
  [35.8, 0.046], [38.8, 0.066], [41.8, 0.0465], [44.8, 0.0655], [47.8, 0.047], [50.8, 0.065], [53.8, 0.0475], [56.8, 0.0645], [59.8, 0.048],
  [62.8, 0.064], [65.8, 0.0485], [68.8, 0.0635], [71.8, 0.049], [74.8, 0.063], [77.8, 0.0495], [80.8, 0.0625], [83.8, 0.05], [86.8, 0.062],
  [89.8, 0.0503], [92.8, 0.0615], [95.8, 0.0507], [98.8, 0.061], [101.8, 0.051], [104.8, 0.0607], [107.8, 0.0513], [110.8, 0.0603],
  [113.8, 0.0516], [116.8, 0.06], [119.8, 0.0519], [122.8, 0.0597], [125.8, 0.0522], [128.8, 0.0595], [131.8, 0.0525], [134.8, 0.0592],
  [137.8, 0.0527], [140.8, 0.059], [143.8, 0.053], [146.8, 0.0588], [149.8, 0.0532], [152.8, 0.0585], [155.8, 0.0535], [158.8, 0.0578],
  [161.8, 0.054], [164.8, 0.0575], [167.8, 0.054], [170.8, 0.0573], [173.8, 0.0543], [176.8, 0.0572], [179.8, 0.0543], [182.8, 0.0572],
  [185.8, 0.0543], [188.8, 0.0572], [191.8, 0.0542], [194.8, 0.0574], [197.8, 0.0541], [200.8, 0.0577], [203.8, 0.054], [206.8, 0.058],
  [209.8, 0.0538], [214, 0.0585], [216.2, 0.0528], [218.4, 0.0595], [220.6, 0.052], [222.8, 0.0603], [225, 0.0512], [227.2, 0.061],
  [229.4, 0.0507], [231.6, 0.0613], [233.8, 0.0505], [236, 0.0615], [238.2, 0.0507], [240.4, 0.0613], [242.6, 0.051], [244.8, 0.061],
  [247, 0.0514], [249.2, 0.0605], [251.4, 0.0518], [253.6, 0.0602], [255.8, 0.052], [258, 0.0598], [260.2, 0.0523], [262.4, 0.0594],
  [264.6, 0.0526], [266.8, 0.0592], [269, 0.0528], [271.2, 0.0589], [273.4, 0.053], [275.6, 0.0587], [277.8, 0.0532], [280, 0.0585],
  [282.2, 0.0534], [284.4, 0.0582], [286.6, 0.0536], [288.8, 0.058], [291, 0.0537], [293.2, 0.0579], [295.4, 0.0538], [297.6, 0.0578],
  [299.8, 0.054], [300, 0.055],
];

const d3phi2: Pt[] = [
  [0, 0], [1, 0.045], [2, 0.082], [2.6, 0.089], [3.5, 0.075], [4.5, 0.045], [5.5, 0.027], [6.5, 0.04], [7.5, 0.075], [8.4, 0.089],
  [9.3, 0.078], [10.3, 0.048], [11.2, 0.03], [12.2, 0.042], [13, 0.068], [13.8, 0.079], [15, 0.065], [16, 0.045], [16.8, 0.037], [18, 0.05],
  [19.4, 0.072], [20.5, 0.065], [22, 0.046], [23.5, 0.055], [24.8, 0.066], [26.5, 0.058], [27.9, 0.049], [29.5, 0.058], [31, 0.064],
  [32.5, 0.057], [34, 0.05], [35.5, 0.058], [37, 0.062], [38.5, 0.056], [40, 0.051], [41.5, 0.057], [43, 0.061], [44.5, 0.056], [46, 0.052],
  [47.5, 0.057], [49, 0.06], [50.5, 0.056], [52, 0.053], [53.5, 0.057], [55, 0.059], [57, 0.055], [59, 0.054], [61, 0.057], [63, 0.058],
  [66, 0.055], [69, 0.057], [72, 0.055], [75, 0.057], [80, 0.056], [85, 0.055], [90, 0.056], [100, 0.056], [110, 0.055], [120, 0.056],
  [130, 0.056], [140, 0.055], [143, 0.057], [144.5, 0.053], [146, 0.059], [147.5, 0.052], [149, 0.06], [150.5, 0.051], [152, 0.059],
  [153.5, 0.053], [155, 0.058], [156.5, 0.054], [158, 0.057], [160, 0.055], [163, 0.056], [166, 0.055], [169, 0.056], [172, 0.057],
  [173.8, 0.053], [175.5, 0.061], [177, 0.052], [178.7, 0.063], [180.3, 0.05], [182, 0.064], [183.5, 0.049], [185, 0.064], [186.8, 0.049],
  [188.6, 0.064], [190.4, 0.049], [192.2, 0.064], [193.9, 0.049], [195.5, 0.064], [197.4, 0.049], [199.3, 0.063], [201.1, 0.05],
  [203, 0.062], [204.8, 0.051], [206.6, 0.06], [208.3, 0.053], [210, 0.058], [212, 0.055], [215, 0.057], [220, 0.056], [230, 0.056],
  [240, 0.056], [250, 0.056], [260, 0.056], [270, 0.056], [280, 0.056], [290, 0.056], [295, 0.055], [297, 0.057], [298, 0.054],
  [299, 0.061], [299.5, 0.05], [300, 0.053],
];

const panels = [
  { series: [d0phi0, d0phi6, d0phi4, d0phi2], left: 0, top: 0, width: 1300, height: 1040, margin: { top: 89, right: 26, bottom: 19, left: 85 }, showX: false, showY: true, legend: { left: 906, top: 345 } },
  { series: [d1phi0, d1phi6, d1phi4, d1phi2], left: 1300, top: 0, width: 1238, height: 1040, margin: { top: 89, right: 26, bottom: 19, left: 23 }, showX: false, showY: false, legend: { left: 148, top: 577 } },
  { series: [d2phi0, d2phi6, d2phi4, d2phi2], left: 0, top: 1040, width: 1300, height: 1057, margin: { top: 81, right: 26, bottom: 45, left: 85 }, showX: true, showY: true, legend: { left: 904, top: 568 } },
  { series: [d3phi0, d3phi6, d3phi4, d3phi2], left: 1300, top: 1040, width: 1238, height: 1057, margin: { top: 81, right: 26, bottom: 45, left: 23 }, showX: true, showY: false, legend: { left: 842, top: 106 } },
];

function PhiText({ label }: { label: string }) {
  const rest = label.startsWith('π') ? (
    <>
      <i>π</i>
      {label.slice(1)}
    </>
  ) : (
    label
  );
  return (
    <span>
      <i>ϕ</i>
      <span style={{ margin: '0 0.2em' }}>=</span>
      {rest}
    </span>
  );
}

function PhiLegend() {
  return (
    <div
      style={{
        width: 345,
        height: 319,
        boxSizing: 'border-box',
        border: '4px solid #d6d6d6',
        borderRadius: 12,
        background: 'rgba(255,255,255,0.8)',
        fontFamily: FONT,
        fontSize: 50,
        color: INK,
      }}
    >
      {phiLabels.map((p, i) => (
        <div key={p} style={{ display: 'flex', alignItems: 'center', height: 76 }}>
          <div style={{ marginLeft: 16, width: 100, height: 5.5, background: colors[i], flex: 'none' }} />
          <div style={{ marginLeft: 36, whiteSpace: 'nowrap', lineHeight: '76px' }}>
            <PhiText label={p} />
          </div>
        </div>
      ))}
    </div>
  );
}

function Panel({ p }: { p: (typeof panels)[number] }) {
  const tickStyle = { fontFamily: FONT, fontSize: 50, fill: INK };
  return (
    <div style={{ position: 'absolute', left: p.left, top: p.top }}>
      <LineChart width={p.width} height={p.height} margin={p.margin}>
        <XAxis
          type="number"
          dataKey="t"
          domain={timeDomain}
          ticks={timeTicks}
          interval={0}
          allowDataOverflow
          height={100}
          axisLine={false}
          stroke={INK}
          tickLine={{ stroke: INK, strokeWidth: 3.3 }}
          tickSize={10}
          tickMargin={12}
          tick={tickStyle}
          tickFormatter={(v: number) => (p.showX ? String(v) : '')}
        />
        <YAxis
          type="number"
          domain={entropyDomain}
          ticks={entropyTicks}
          interval={0}
          allowDataOverflow
          width={100}
          axisLine={false}
          stroke={INK}
          tickLine={{ stroke: INK, strokeWidth: 3.3 }}
          tickSize={10}
          tickMargin={12}
          tick={tickStyle}
          tickFormatter={(v: number) => (p.showY ? v.toFixed(1) : '')}
        />
        {p.series.map((s, i) => (
          <Line
            key={phiLabels[i]}
            data={s.map(([t, v]) => ({ t, v }))}
            dataKey="v"
            type="monotone"
            stroke={colors[i]}
            strokeWidth={5.5}
            dot={false}
            activeDot={false}
            isAnimationActive={false}
          />
        ))}
        <ReferenceArea
          x1={timeDomain[0]}
          x2={timeDomain[1]}
          y1={entropyDomain[0]}
          y2={entropyDomain[1]}
          fill="none"
          fillOpacity={0}
          stroke={INK}
          strokeWidth={3.3}
          ifOverflow="visible"
        />
        <Legend
          layout="horizontal"
          verticalAlign="middle"
          align="center"
          wrapperStyle={{ left: p.legend.left, top: p.legend.top, width: 345, height: 319 }}
          content={() => <PhiLegend />}
        />
      </LineChart>
    </div>
  );
}

function DeltaTitle({ x, y, label }: { x: number; y: number; label: string }) {
  const negative = label.startsWith('−');
  return (
    <text x={x} y={y} textAnchor="middle" fontFamily={FONT} fontSize={60} fill={INK}>
      <tspan>Δ</tspan>
      <tspan dx={12}>=</tspan>
      {negative ? (
        <>
          <tspan dx={29}>−</tspan>
          <tspan dx={8}>{label.slice(1)}</tspan>
        </>
      ) : (
        <tspan dx={12}>{label}</tspan>
      )}
    </text>
  );
}

export default function App() {
  const colCenters = [729.5, 1967.5];
  const titleBaselines = [70, 1101];
  const xLabelBaselines = [984, 2072];
  const yLabelBaselines = [60, 1383];
  const rowCenters = [505, 1536.5];
  return (
    <div style={{ position: 'absolute', left: 0, top: 0, width: 2538, height: 2097, background: '#fff' }}>
      {panels.map((p, i) => (
        <Panel key={deltaLabels[i]} p={p} />
      ))}
      <svg width={2538} height={2097} style={{ position: 'absolute', left: 0, top: 0, pointerEvents: 'none' }}>
        {deltaLabels.map((d, i) => {
          const col = i % 2;
          const row = Math.floor(i / 2);
          return (
            <g key={d}>
              <DeltaTitle x={colCenters[col]} y={titleBaselines[row]} label={d} />
              <text x={colCenters[col]} y={xLabelBaselines[row]} textAnchor="middle" fontFamily={FONT} fontSize={55} fill={INK}>
                Time <tspan fontStyle="italic">t</tspan>
              </text>
              <text
                transform={`translate(${yLabelBaselines[col]},${rowCenters[row]}) rotate(-90)`}
                textAnchor="middle"
                fontFamily={FONT}
                fontSize={55}
                fill={INK}
              >
                Entropy <tspan fontStyle="italic">S</tspan>(<tspan fontStyle="italic">t</tspan>)
              </text>
            </g>
          );
        })}
      </svg>
    </div>
  );
}
